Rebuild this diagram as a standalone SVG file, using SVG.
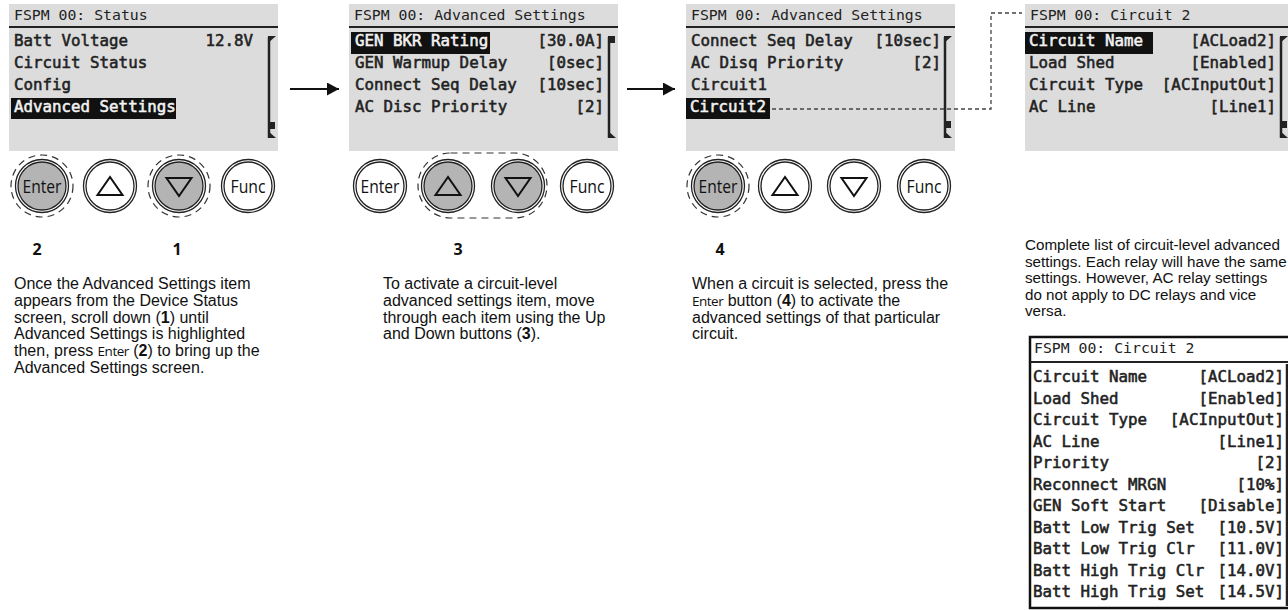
<svg xmlns="http://www.w3.org/2000/svg" width="1288" height="610" viewBox="0 0 1288 610">
<style>
.bg{fill:#ffffff}
.scr{fill:#dcdcdc}
.hd{font-family:"DejaVu Sans Mono",monospace;font-size:14.8px;fill:#222}
.row{font-family:"DejaVu Sans Mono",monospace;font-size:15.8px;fill:#222;stroke:#222;stroke-width:0.55}
.val{text-anchor:end}
.hl{fill:#111}
.hlt{fill:#f2f2f2;stroke:#f2f2f2}
.sep{stroke:#222;stroke-width:2}
.sb{stroke:#222;stroke-width:2.5}
.sbf{fill:#222}
.ring{fill:#fff;stroke:#222;stroke-width:1.3}
.ring2{fill:none;stroke:#222;stroke-width:1.3}
.press{fill:#b4b4b4;stroke:#222;stroke-width:1.3}
.dsh{fill:none;stroke:#333;stroke-width:1.2;stroke-dasharray:7 5}
.tri{fill:none;stroke:#111;stroke-width:2;stroke-linejoin:miter}
.blab{font-family:"Open Sans",sans-serif;font-size:19px;fill:#111;text-anchor:middle}
.num{font-family:"Open Sans",sans-serif;font-weight:bold;font-size:16px;fill:#111;text-anchor:middle}
.desc{font-family:"Liberation Sans",Arial,sans-serif;font-size:16px;fill:#111}
.desc2{font-family:"Liberation Sans",Arial,sans-serif;font-size:15.2px;fill:#111}
.cond{font-family:"Open Sans",sans-serif;font-size:13.5px;letter-spacing:-0.5px}
.b{font-weight:bold}
.conn{fill:none;stroke:#111;stroke-width:2.2}
.dconn{fill:none;stroke:#444;stroke-width:1.3;stroke-dasharray:4 3}
</style>
<defs>
<marker id="ah" markerUnits="userSpaceOnUse" markerWidth="13" markerHeight="13" refX="12" refY="6.5" orient="auto">
<path d="M0,0 L12,6.5 L0,13 z" fill="#111"/>
</marker>
</defs>
<rect class="bg" x="0" y="0" width="1288" height="610"/>

<g id="screen1">
<rect class="scr" x="9" y="4" width="269" height="147"/>
<text class="hd" x="14" y="20">FSPM 00: Status</text>
<line class="sep" x1="9" y1="27" x2="278" y2="27"/>
<text class="row" x="14" y="46">Batt Voltage</text>
<text class="row val" x="253" y="46">12.8V</text>
<text class="row" x="14" y="68">Circuit Status</text>
<text class="row" x="14" y="90">Config</text>
<rect class="hl" x="11" y="98" width="165" height="21"/>
<text class="row hlt" x="14" y="112">Advanced Settings</text>
<line class="sb" x1="269" y1="37" x2="269" y2="138"/>
<polygon class="sbf" points="268,36 276,36 268,43"/>
<polygon class="sbf" points="268,131 276,138 268,138"/>
<rect class="sbf" x="269" y="122" width="6" height="7"/>
</g>

<g id="screen2">
<rect class="scr" x="349" y="4" width="269" height="147"/>
<text class="hd" x="354" y="20">FSPM 00: Advanced Settings</text>
<line class="sep" x1="349" y1="27" x2="618" y2="27"/>
<rect class="hl" x="351" y="32" width="139" height="22"/>
<text class="row hlt" x="355" y="46">GEN BKR Rating</text>
<text class="row val" x="604" y="46">[30.0A]</text>
<text class="row" x="355" y="68">GEN Warmup Delay</text>
<text class="row val" x="604" y="68">[0sec]</text>
<text class="row" x="355" y="90">Connect Seq Delay</text>
<text class="row val" x="604" y="90">[10sec]</text>
<text class="row" x="355" y="112">AC Disc Priority</text>
<text class="row val" x="604" y="112">[2]</text>
<line class="sb" x1="609" y1="37" x2="609" y2="138"/>
<rect class="sbf" x="608" y="36" width="7" height="7"/>
<polygon class="sbf" points="608,131 616,138 608,138"/>
</g>

<g id="screen3">
<rect class="scr" x="686" y="4" width="269" height="147"/>
<text class="hd" x="691" y="20">FSPM 00: Advanced Settings</text>
<line class="sep" x1="686" y1="27" x2="955" y2="27"/>
<text class="row" x="691" y="46">Connect Seq Delay</text>
<text class="row val" x="941" y="46">[10sec]</text>
<text class="row" x="691" y="68">AC Disq Priority</text>
<text class="row val" x="941" y="68">[2]</text>
<text class="row" x="691" y="90">Circuit1</text>
<rect class="hl" x="686" y="98" width="84" height="21"/>
<text class="row hlt" x="690" y="112">Circuit2</text>
<line class="sb" x1="945" y1="37" x2="945" y2="138"/>
<polygon class="sbf" points="944,36 952,36 944,43"/>
<polygon class="sbf" points="944,131 952,138 944,138"/>
<rect class="sbf" x="945" y="121" width="6" height="7"/>
</g>

<g id="screen4">
<rect class="scr" x="1025" y="4" width="269" height="147"/>
<text class="hd" x="1030" y="20">FSPM 00: Circuit 2</text>
<line class="sep" x1="1025" y1="27" x2="1288" y2="27"/>
<rect class="hl" x="1025" y="32" width="128" height="22"/>
<text class="row hlt" x="1029" y="46">Circuit Name</text>
<text class="row val" x="1276" y="46">[ACLoad2]</text>
<text class="row" x="1029" y="68">Load Shed</text>
<text class="row val" x="1276" y="68">[Enabled]</text>
<text class="row" x="1029" y="90">Circuit Type</text>
<text class="row val" x="1276" y="90">[ACInputOut]</text>
<text class="row" x="1029" y="112">AC Line</text>
<text class="row val" x="1276" y="112">[Line1]</text>
<line class="sb" x1="1281" y1="37" x2="1281" y2="138"/>
<polygon class="sbf" points="1280,36 1288,36 1280,43"/>
<polygon class="sbf" points="1280,131 1288,138 1280,138"/>
<rect class="sbf" x="1281" y="121" width="6" height="7"/>
</g>

<g id="buttons1">
<circle class="dsh" cx="42" cy="186" r="31"/>
<circle class="ring" cx="42" cy="186" r="26.5"/>
<circle class="press" cx="42" cy="186" r="24"/>
<text class="blab" x="42" y="192.5" textLength="39" lengthAdjust="spacingAndGlyphs">Enter</text>
<circle class="ring" cx="110" cy="186" r="26.5"/>
<circle class="ring2" cx="110" cy="186" r="24"/>
<polygon class="tri" points="110,177 97.5,195 122.5,195"/>
<circle class="dsh" cx="179" cy="186" r="31"/>
<circle class="ring" cx="179" cy="186" r="26.5"/>
<circle class="press" cx="179" cy="186" r="24"/>
<polygon class="tri" points="166.5,178 191.5,178 179,196"/>
<circle class="ring" cx="248" cy="186" r="26.5"/>
<circle class="ring2" cx="248" cy="186" r="24"/>
<text class="blab" x="248" y="192.5" textLength="35" lengthAdjust="spacingAndGlyphs">Func</text>
</g>

<g id="buttons2">
<rect class="dsh" x="418" y="153" width="129" height="65" rx="32.5"/>
<circle class="ring" cx="380" cy="186" r="26.5"/>
<circle class="ring2" cx="380" cy="186" r="24"/>
<text class="blab" x="380" y="192.5" textLength="39" lengthAdjust="spacingAndGlyphs">Enter</text>
<circle class="ring" cx="448" cy="186" r="26.5"/>
<circle class="press" cx="448" cy="186" r="24"/>
<polygon class="tri" points="448,177 435.5,195 460.5,195"/>
<circle class="ring" cx="518" cy="186" r="26.5"/>
<circle class="press" cx="518" cy="186" r="24"/>
<polygon class="tri" points="505.5,178 530.5,178 518,196"/>
<circle class="ring" cx="587" cy="186" r="26.5"/>
<circle class="ring2" cx="587" cy="186" r="24"/>
<text class="blab" x="587" y="192.5" textLength="35" lengthAdjust="spacingAndGlyphs">Func</text>
</g>

<g id="buttons3">
<circle class="dsh" cx="718" cy="186" r="31"/>
<circle class="ring" cx="718" cy="186" r="26.5"/>
<circle class="press" cx="718" cy="186" r="24"/>
<text class="blab" x="718" y="192.5" textLength="39" lengthAdjust="spacingAndGlyphs">Enter</text>
<circle class="ring" cx="785" cy="186" r="26.5"/>
<circle class="ring2" cx="785" cy="186" r="24"/>
<polygon class="tri" points="785,177 772.5,195 797.5,195"/>
<circle class="ring" cx="854" cy="186" r="26.5"/>
<circle class="ring2" cx="854" cy="186" r="24"/>
<polygon class="tri" points="841.5,178 866.5,178 854,196"/>
<circle class="ring" cx="924" cy="186" r="26.5"/>
<circle class="ring2" cx="924" cy="186" r="24"/>
<text class="blab" x="924" y="192.5" textLength="35" lengthAdjust="spacingAndGlyphs">Func</text>
</g>

<g id="step-numbers">
<text class="num" x="37" y="255">2</text>
<text class="num" x="177" y="255">1</text>
<text class="num" x="458" y="255">3</text>
<text class="num" x="720" y="255">4</text>
</g>

<g id="text1">
<text class="desc" x="14" y="289">Once the Advanced Settings item</text>
<text class="desc" x="14" y="305.8">appears from the Device Status</text>
<text class="desc" x="14" y="322.6">screen, scroll down (<tspan class="b">1</tspan>) until</text>
<text class="desc" x="14" y="339.4">Advanced Settings is highlighted</text>
<text class="desc" x="14" y="356.2">then, press <tspan class="cond">Enter</tspan> (<tspan class="b">2</tspan>) to bring up the</text>
<text class="desc" x="14" y="373">Advanced Settings screen.</text>
</g>

<g id="text2">
<text class="desc" x="383" y="289">To activate a circuit-level</text>
<text class="desc" x="383" y="305.8">advanced settings item, move</text>
<text class="desc" x="383" y="322.6">through each item using the Up</text>
<text class="desc" x="383" y="339.4">and Down buttons (<tspan class="b">3</tspan>).</text>
</g>

<g id="text3">
<text class="desc" x="692" y="289">When a circuit is selected, press the</text>
<text class="desc" x="692" y="305.8"><tspan class="cond">Enter</tspan> button (<tspan class="b">4</tspan>) to activate the</text>
<text class="desc" x="692" y="322.6">advanced settings of that particular</text>
<text class="desc" x="692" y="339.4">circuit.</text>
</g>

<g id="text4">
<text class="desc2" x="1025" y="250">Complete list of circuit-level advanced</text>
<text class="desc2" x="1025" y="266.5">settings. Each relay will have the same</text>
<text class="desc2" x="1025" y="283">settings. However, AC relay settings</text>
<text class="desc2" x="1025" y="299.5">do not apply to DC relays and vice</text>
<text class="desc2" x="1025" y="316">versa.</text>
</g>

<g id="full-list">
<rect x="1030" y="337" width="270" height="271" fill="#fff" stroke="#111" stroke-width="2.5"/>
<text class="hd" x="1034" y="353">FSPM 00: Circuit 2</text>
<line class="sep" x1="1030" y1="362" x2="1288" y2="362"/>
<text class="row" x="1033" y="382">Circuit Name</text><text class="row val" x="1284" y="382">[ACLoad2]</text>
<text class="row" x="1033" y="403.5">Load Shed</text><text class="row val" x="1284" y="403.5">[Enabled]</text>
<text class="row" x="1033" y="425">Circuit Type</text><text class="row val" x="1284" y="425">[ACInputOut]</text>
<text class="row" x="1033" y="446.5">AC Line</text><text class="row val" x="1284" y="446.5">[Line1]</text>
<text class="row" x="1033" y="468">Priority</text><text class="row val" x="1284" y="468">[2]</text>
<text class="row" x="1033" y="489.5">Reconnect MRGN</text><text class="row val" x="1284" y="489.5">[10%]</text>
<text class="row" x="1033" y="511">GEN Soft Start</text><text class="row val" x="1284" y="511">[Disable]</text>
<text class="row" x="1033" y="532.5">Batt Low Trig Set</text><text class="row val" x="1284" y="532.5">[10.5V]</text>
<text class="row" x="1033" y="554">Batt Low Trig Clr</text><text class="row val" x="1284" y="554">[11.0V]</text>
<text class="row" x="1033" y="575.5">Batt High Trig Clr</text><text class="row val" x="1284" y="575.5">[14.0V]</text>
<text class="row" x="1033" y="597">Batt High Trig Set</text><text class="row val" x="1284" y="597">[14.5V]</text>
<line class="sb" x1="1287" y1="364" x2="1287" y2="606"/>
</g>

<g id="connectors">
<path class="conn" d="M290,89 H339" marker-end="url(#ah)"/>
<path class="conn" d="M627,89 H675" marker-end="url(#ah)"/>
<path class="dconn" d="M772,109 H991 V13 H1022"/>
</g>
</svg>
